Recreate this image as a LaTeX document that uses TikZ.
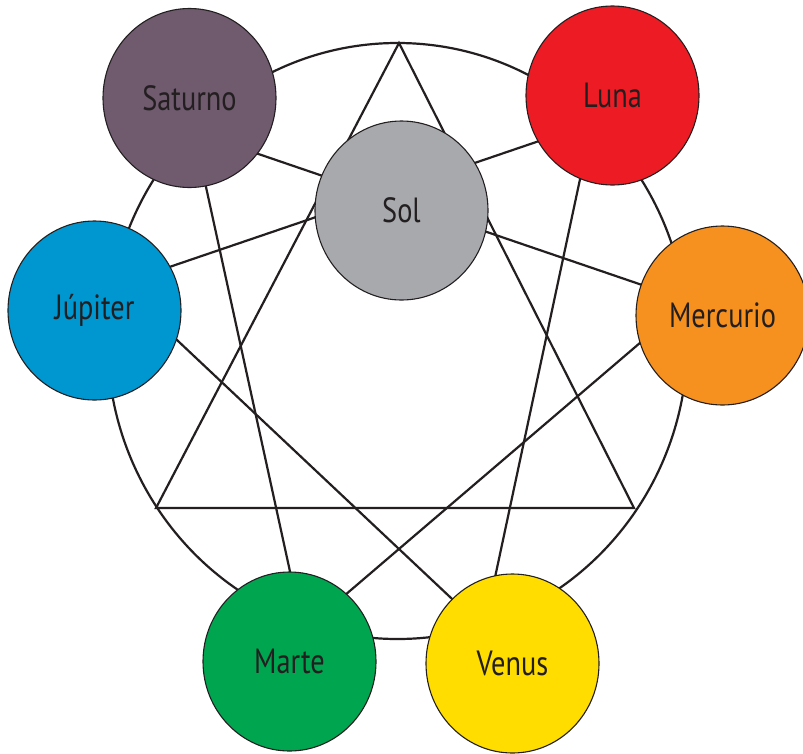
\documentclass[tikz,border=0pt]{standalone}
\usepackage{fontspec}
\setmainfont{PT Sans}[FakeStretch=0.81]
\usepackage{xcolor}
\usetikzlibrary{shapes.geometric}
\definecolor{ink}{HTML}{231F20}
\definecolor{saturnocol}{HTML}{6F5A6E}
\definecolor{lunacol}{HTML}{ED1C24}
\definecolor{solcol}{HTML}{A7A9AC}
\definecolor{jupitercol}{HTML}{0096CF}
\definecolor{mercuriocol}{HTML}{F6901E}
\definecolor{martecol}{HTML}{00A550}
\definecolor{venuscol}{HTML}{FFDD00}

\begin{document}
\begin{tikzpicture}[x=1pt,y=-1pt,
  every node/.style={font=\fontsize{35}{38}\selectfont,text=ink},
  planet/.style={ellipse,draw=ink,line width=1.1pt,minimum width=173pt,minimum height=179pt,inner sep=0pt},
  ln/.style={draw=ink,line width=2.2pt,line join=miter}]
 \useasboundingbox[fill=white] (0,0) rectangle (803,753);
 % outer ring and the nine points on it
 \draw[ln] (397.5,341) ellipse [x radius=290,y radius=298];
 \coordinate (p0) at (399,43);   \coordinate (p1) at (592,123);  \coordinate (p2) at (689,301);
 \coordinate (p3) at (634,508);  \coordinate (p4) at (484,629);  \coordinate (p5) at (303,631);
 \coordinate (p6) at (156,508);  \coordinate (p7) at (118,284.5); \coordinate (p8) at (194,132);
 % three triangles
 \draw[ln] (p0) -- (p3) -- (p6) -- cycle;
 \draw[ln] (p1) -- (p4) -- (p7) -- cycle;
 \draw[ln] (p8) -- (p5) -- (p2) -- cycle;
 % planets
 \node[planet,fill=saturnocol] (saturno) at (189.5,98) {Saturno};
 \node[planet,fill=lunacol] (luna) at (612.5,95.5) {Luna};
 \node[planet,fill=jupitercol] (jupiter) at (94.5,310.5) {Júpiter};
 \node[planet,fill=mercuriocol] (mercurio) at (722.5,315.5) {Mercurio};
 \node[planet,fill=martecol] (marte) at (289.5,661.5) {Marte};
 \node[planet,fill=venuscol] (venus) at (512.5,663.5) {Venus};
 \node[planet,fill=solcol] (sol) at (401.5,210.5) {Sol};
\end{tikzpicture}
\end{document}
